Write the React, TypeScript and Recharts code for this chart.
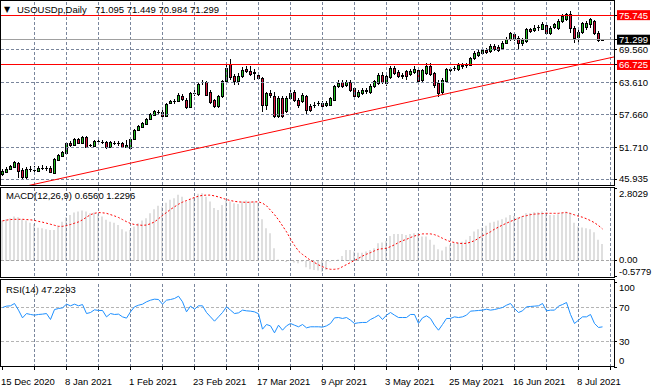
import React from 'react';
import { ComposedChart, Bar, Line, XAxis, YAxis, ReferenceLine } from 'recharts';

const DATE_LABELS = ['15 Dec 2020', '8 Jan 2021', '1 Feb 2021', '23 Feb 2021', '17 Mar 2021', '9 Apr 2021', '3 May 2021', '25 May 2021', '16 Jun 2021', '8 Jul 2021'];
const LABEL_IDX = [0, 16, 32, 48, 64, 80, 96, 112, 128, 144];
const TICK_IDX = [0, 8, 16, 24, 32, 40, 48, 56, 64, 72, 80, 88, 96, 104, 112, 120, 128, 136, 144, 152];
const GRID_IDX = [8, 16, 24, 32, 40, 48, 56, 64, 72, 80, 88, 96, 104, 112, 120, 128, 136, 144, 152];

const OPEN = [46.91,47.27,47.82,48.18,48.91,47.63,46.36,47.82,47.63,47.45,48.00,48.00,48.00,47.09,49.45,50.18,50.72,52.54,52.18,53.27,52.54,53.63,52.00,52.00,52.90,52.72,52.72,51.81,52.54,52.54,52.54,51.81,51.63,53.27,54.90,55.45,55.99,56.90,57.63,58.17,58.17,57.44,59.80,59.99,60.17,61.08,60.35,59.08,61.62,61.44,63.44,63.49,61.80,60.22,59.13,60.95,63.67,66.89,64.71,63.67,64.58,65.93,65.49,65.44,64.89,64.29,59.44,61.57,60.95,57.32,60.66,58.22,60.66,61.68,60.35,60.04,61.08,59.13,59.44,59.80,59.75,59.44,59.44,60.35,62.77,63.49,63.07,63.49,62.48,61.08,61.57,62.17,61.68,62.89,63.38,64.89,63.38,64.53,66.11,65.31,64.89,65.49,65.07,65.31,65.80,63.98,65.20,66.40,65.20,63.38,61.68,63.67,65.93,65.98,65.93,66.71,66.53,66.71,67.92,68.52,68.83,69.31,69.12,70.03,69.92,69.74,70.65,71.38,72.16,71.56,70.65,70.94,73.07,72.94,73.43,73.19,73.79,72.47,73.55,73.37,74.57,74.88,75.79,73.37,71.74,72.58,73.55,73.97,74.57,72.47,71.095];
const HIGH = [47.82,48.18,48.54,49.27,49.09,48.00,48.18,48.36,48.36,48.36,48.54,48.36,48.36,49.81,50.54,51.09,52.72,52.90,53.45,53.45,53.81,53.81,52.36,53.08,53.27,53.08,52.90,52.90,52.90,52.90,52.72,53.08,53.45,55.08,55.81,56.35,57.08,57.99,58.53,58.53,58.53,59.80,60.35,60.53,61.62,61.44,60.72,61.80,62.17,63.44,63.98,63.80,62.17,60.53,61.26,63.98,67.07,67.74,65.07,65.25,66.35,66.53,66.53,65.98,65.25,64.53,61.80,62.17,61.80,61.08,61.08,61.08,62.17,62.17,60.72,61.62,61.26,59.62,59.99,60.17,60.17,60.17,60.90,63.07,63.98,63.98,63.98,63.98,62.71,62.17,62.53,62.53,63.26,63.98,65.25,65.44,64.89,66.53,66.53,65.80,65.25,65.80,65.98,66.53,66.16,65.98,67.07,67.12,65.44,63.98,64.35,66.16,66.35,66.53,67.07,67.07,67.07,68.16,69.25,69.43,69.98,69.79,70.52,70.52,70.34,71.07,71.79,72.70,72.52,71.98,71.61,73.43,73.43,73.97,73.97,74.52,74.16,73.79,74.34,75.06,75.97,76.15,76.52,73.79,73.07,74.52,74.70,75.25,74.88,72.88,71.449];
const LOW = [46.54,47.09,47.63,48.00,46.18,45.82,46.00,47.27,46.91,47.27,47.63,47.45,47.09,47.00,49.27,50.00,50.63,51.81,52.00,52.36,52.36,51.63,51.81,51.81,52.54,52.36,51.45,51.63,52.18,52.00,51.63,51.63,51.45,53.08,54.72,55.27,55.81,56.72,57.44,57.81,57.26,57.26,59.62,59.62,59.99,60.17,58.72,58.90,61.08,61.08,63.07,61.08,59.62,58.90,58.90,60.72,63.44,63.98,63.07,63.07,64.35,65.25,64.71,63.98,63.98,58.17,58.53,60.72,57.08,57.08,57.08,57.99,60.35,59.99,58.90,59.80,57.62,58.17,58.90,59.26,58.90,59.08,59.26,60.17,62.53,62.53,62.71,61.80,60.72,60.72,61.26,61.44,61.44,62.53,63.07,63.26,62.89,64.16,64.89,64.35,64.16,63.98,64.71,65.07,63.44,63.62,64.89,64.71,62.53,60.90,61.26,63.44,65.44,65.62,65.62,65.98,66.16,66.53,67.62,68.16,68.52,68.70,68.89,69.25,69.07,69.43,70.52,71.07,71.07,69.56,70.16,70.70,72.52,72.70,72.88,73.07,72.16,72.16,73.25,73.07,74.34,74.70,72.52,70.65,70.34,72.34,73.07,73.43,72.16,70.89,70.984];
const CLOSE = [47.45,47.82,48.36,49.09,47.45,46.36,47.82,47.73,47.45,48.00,48.05,47.91,47.27,49.63,50.36,50.90,52.54,52.18,53.27,52.54,53.63,51.81,52.18,52.90,52.81,52.65,51.81,52.72,52.45,52.36,51.81,52.18,53.27,54.90,55.63,56.17,56.90,57.81,58.35,58.08,57.44,59.62,60.17,60.08,61.26,60.53,59.08,61.62,61.44,63.25,63.53,61.26,59.86,59.13,60.95,63.67,66.11,64.47,63.67,64.58,65.80,65.49,65.07,65.25,64.29,59.44,61.57,61.26,57.32,60.66,57.32,60.66,61.57,60.35,59.44,61.26,58.53,58.53,59.35,59.62,59.26,59.75,60.66,62.77,63.38,62.89,63.49,62.17,60.95,61.68,62.04,61.86,62.89,63.67,64.89,63.49,64.58,66.11,65.20,64.71,64.58,64.71,65.49,65.93,63.67,65.67,66.40,65.07,63.07,61.57,63.86,65.93,65.67,66.11,66.71,66.40,66.71,67.92,68.71,68.94,69.43,68.94,70.03,69.56,69.43,70.65,71.38,72.34,71.38,70.65,71.12,73.07,72.76,73.37,73.25,73.97,72.47,73.37,73.97,74.57,75.48,75.79,73.37,71.56,72.58,74.16,74.28,74.88,72.47,71.12,71.299];

const MACD = [1.55,1.60,1.64,1.71,1.68,1.60,1.55,1.47,1.42,1.28,1.26,1.22,1.19,1.19,1.32,1.51,1.68,1.77,1.86,1.90,1.94,1.90,1.83,1.86,1.81,1.71,1.58,1.51,1.47,1.38,1.22,1.13,1.19,1.32,1.45,1.55,1.64,1.83,1.99,2.12,2.09,2.24,2.35,2.41,2.54,2.47,2.28,2.37,2.45,2.58,2.60,2.47,2.28,2.03,1.96,2.15,2.32,2.28,2.22,2.19,2.28,2.32,2.28,2.28,2.24,1.60,1.26,1.06,0.49,0.06,0.02,-0.04,0.01,-0.06,-0.09,-0.03,-0.24,-0.32,-0.35,-0.37,-0.41,-0.35,-0.03,0.02,0.06,0.19,0.42,0.42,0.36,0.32,0.32,0.36,0.42,0.49,0.68,0.71,0.77,0.96,1.04,1.04,1.04,1.00,1.04,1.06,1.06,0.94,0.94,0.81,0.62,0.45,0.40,0.55,0.62,0.68,0.71,0.74,0.81,0.96,1.13,1.22,1.29,1.35,1.47,1.51,1.55,1.60,1.67,1.77,1.73,1.68,1.73,1.83,1.83,1.87,1.87,1.90,1.86,1.77,1.77,1.79,1.86,1.90,1.86,1.47,1.32,1.29,1.26,1.22,1.10,0.81,0.656];
const SIGNAL = [1.54,1.57,1.59,1.60,1.60,1.60,1.59,1.58,1.56,1.52,1.49,1.45,1.41,1.37,1.33,1.33,1.36,1.40,1.45,1.50,1.58,1.68,1.78,1.83,1.86,1.85,1.83,1.78,1.73,1.67,1.59,1.51,1.44,1.40,1.38,1.37,1.38,1.43,1.50,1.62,1.75,1.86,1.98,2.08,2.18,2.26,2.32,2.38,2.44,2.49,2.52,2.53,2.53,2.50,2.46,2.41,2.36,2.32,2.29,2.27,2.26,2.25,2.26,2.27,2.27,2.22,2.12,1.95,1.78,1.58,1.35,1.12,0.85,0.60,0.38,0.25,0.14,0.02,-0.06,-0.15,-0.22,-0.29,-0.32,-0.32,-0.30,-0.22,-0.14,-0.06,0.02,0.10,0.19,0.26,0.32,0.39,0.45,0.47,0.49,0.55,0.62,0.71,0.78,0.83,0.90,0.96,1.00,1.04,1.04,1.04,1.01,0.95,0.87,0.80,0.74,0.71,0.68,0.67,0.68,0.72,0.78,0.87,0.97,1.04,1.12,1.22,1.30,1.38,1.45,1.52,1.58,1.64,1.71,1.74,1.78,1.80,1.81,1.82,1.83,1.83,1.83,1.83,1.85,1.86,1.82,1.77,1.72,1.68,1.62,1.55,1.47,1.36,1.2296];
const RSI = [70.0,71.6,72.0,74.7,66.9,57.8,62.9,61.8,61.0,61.8,62.2,62.9,55.9,67.6,68.8,69.6,73.9,72.0,73.9,72.0,73.5,62.9,64.1,67.3,66.5,66.5,59.0,62.9,61.8,62.2,59.0,57.5,64.9,70.8,72.7,73.9,76.7,78.6,79.8,79.4,73.9,78.6,79.4,80.6,83.3,76.7,64.9,71.6,68.0,72.0,72.0,64.1,59.0,53.9,59.0,64.1,70.8,66.9,62.9,63.7,66.9,66.1,65.7,64.9,62.6,44.5,50.0,48.4,40.2,49.2,43.3,48.4,51.2,49.2,47.3,50.0,46.1,47.3,47.3,47.3,46.9,48.4,51.2,57.8,58.2,57.1,58.2,55.1,51.2,52.0,52.4,52.4,55.9,58.2,61.0,55.9,61.0,64.1,61.0,58.2,58.2,58.2,61.8,61.8,51.2,57.8,60.2,57.1,49.2,43.3,50.0,57.1,57.1,59.0,58.2,59.0,61.0,65.7,66.1,66.5,66.9,68.0,66.9,67.6,68.8,70.0,72.7,74.7,68.8,64.1,66.1,70.8,71.2,71.6,72.0,74.7,66.1,66.9,66.9,71.6,73.5,75.9,61.8,51.2,55.1,59.0,59.0,61.8,51.2,46.5,47.2293];

const PRICE_TICKS = [75.745, 71.299, 69.56, 66.725, 63.61, 57.66, 51.71, 45.935];
const PRICE_GRID = [69.56, 63.61, 57.66, 51.71, 45.935];
const RED_LEVELS = [75.745, 66.725];
const CURRENT_PRICE = 71.299;
const TREND = [{ i: 0, p: 43.85 }, { i: 152.9, p: 68.18 }];
const MACD_TICKS = [2.8029, 0, -0.5779];
const RSI_TICKS = [100, 70, 30, 0];
const RSI_LEVELS = [70, 30];

const rows = OPEN.map((o, i) => ({
  i, o, h: HIGH[i], l: LOW[i], c: CLOSE[i], macd: MACD[i], signal: SIGNAL[i], rsi: RSI[i],
}));

const X_DOMAIN: [number, number] = [-0.375, 152.875];
const FONT = 'Liberation Sans, Arial, sans-serif';
const GRID_COLOR = '#7a869c';
const BULL = '#1fbf1f';
const BEAR = '#dc143c';

const Candle = (props: any) => {
  const { x, y, width, height, payload } = props;
  if (!payload || height == null) return null;
  const { o, c, h, l } = payload;
  const cx = x + width / 2;
  const ppu = h > l ? height / (h - l) : 0;
  const yO = y + (h - o) * ppu;
  const yC = y + (h - c) * ppu;
  const top = Math.min(yO, yC);
  const bot = Math.max(yO, yC);
  const up = c >= o;
  return (
    <g shapeRendering="crispEdges">
      <line x1={cx} x2={cx} y1={y} y2={y + height} stroke="#000" strokeWidth={1} />
      {bot - top < 1 ? (
        <line x1={cx - 1.5} x2={cx + 1.5} y1={top} y2={top} stroke="#000" strokeWidth={1} />
      ) : (
        <rect x={cx - 1} y={top} width={2} height={bot - top} fill={up ? BULL : BEAR} stroke="#000" strokeWidth={1} />
      )}
    </g>
  );
};

const makeYTick = (top: number, bottom: number, fmt: (v: number) => string, boxes: Record<string, string>, shift: Record<string, number>) => (props: any) => {
  const { x, y, payload } = props;
  const label = fmt(payload.value);
  const cy = Math.min(Math.max(y, top + 5.5), bottom - 6) + (shift[label] || 0);
  const bg = boxes[label];
  return (
    <g>
      <line x1={x} x2={x + 3} y1={y} y2={y} stroke="#000" shapeRendering="crispEdges" />
      {bg ? <rect x={x + 3} y={cy - 5} width={33} height={10} fill={bg} /> : null}
      <text x={x + 5} y={cy} dy={3.4} fontSize={9.5} fontFamily={FONT} fill={bg ? '#fff' : '#000'}>{label}</text>
    </g>
  );
};

const XTick = (props: any) => {
  const { x, y, payload } = props;
  const k = LABEL_IDX.indexOf(payload.value);
  return (
    <g>
      <line x1={x} x2={x} y1={y} y2={y + 3} stroke="#000" shapeRendering="crispEdges" />
      {k >= 0 ? (
        <text x={x - 1.5} y={y + 17.5} fontSize={9.5} fontFamily={FONT} fill="#000" textAnchor="start">{DATE_LABELS[k]}</text>
      ) : null}
    </g>
  );
};

const PriceTick = makeYTick(1, 185, (v) => v.toFixed(3), { '75.745': '#ff0000', '66.725': '#ff0000', '71.299': '#000000' }, {});
const MacdTick = makeYTick(2, 90, (v) => (v === 0 ? '0.00' : v.toFixed(4)), {}, { '0.00': -1.5, '-0.5779': 1.5 });
const RsiTick = makeYTick(4, 89, (v) => String(v), {}, {});

const vGrid = () => GRID_IDX.map((g) => (
  <ReferenceLine key={'vg' + g} x={g} stroke={GRID_COLOR} strokeDasharray="3 2" shapeRendering="crispEdges" />
));

const frame = (top: number, height: number) => ({
  position: 'absolute' as const, left: 0, top, width: 615, height, border: '1px solid #000', boxSizing: 'border-box' as const, pointerEvents: 'none' as const,
});

export default function App() {
  return (
    <div style={{ position: 'fixed', left: 0, top: 0, width: 656, height: 391, background: '#fff', overflow: 'hidden' }}>
      <div style={{ position: 'absolute', left: 0, top: 0 }}>
        <ComposedChart width={656} height={186} data={rows} margin={{ top: 1, right: 0, bottom: 1, left: 1 }}>
          <XAxis dataKey="i" type="number" domain={X_DOMAIN} allowDataOverflow hide ticks={TICK_IDX} />
          <YAxis orientation="right" width={42} domain={[44.98, 78.31]} allowDataOverflow ticks={PRICE_TICKS} interval={0}
            axisLine={false} tickLine={false} tickSize={0} tickMargin={0} tick={PriceTick} />
          {vGrid()}
          {PRICE_GRID.map((p) => (
            <ReferenceLine key={'hg' + p} y={p} stroke={GRID_COLOR} strokeDasharray="3 2" shapeRendering="crispEdges" />
          ))}
          <ReferenceLine y={CURRENT_PRICE} stroke="#a0a0a0" shapeRendering="crispEdges" />
          {RED_LEVELS.map((p) => (
            <ReferenceLine key={'rl' + p} y={p} stroke="#ff0000" shapeRendering="crispEdges" />
          ))}
          <ReferenceLine segment={[{ x: TREND[0].i, y: TREND[0].p }, { x: TREND[1].i, y: TREND[1].p }]} stroke="#ff0000" ifOverflow="hidden" />
          <Bar dataKey={(d: any) => [d.l, d.h]} barSize={3} shape={Candle} isAnimationActive={false} />
        </ComposedChart>
      </div>
      <div style={{ position: 'absolute', left: 0, top: 186 }}>
        <ComposedChart width={656} height={92} data={rows} margin={{ top: 2, right: 0, bottom: 2, left: 1 }}>
          <XAxis dataKey="i" type="number" domain={X_DOMAIN} allowDataOverflow hide ticks={TICK_IDX} />
          <YAxis orientation="right" width={42} domain={[-0.5779, 2.8029]} allowDataOverflow ticks={MACD_TICKS} interval={0}
            axisLine={false} tickLine={false} tickSize={0} tickMargin={0} tick={MacdTick} />
          {vGrid()}
          <ReferenceLine y={0} stroke="#a8a8a8" strokeDasharray="3 2" shapeRendering="crispEdges" />
          <Bar dataKey="macd" barSize={1} fill="#c0c0c0" isAnimationActive={false} />
          <Line dataKey="signal" type="linear" stroke="#ff0000" strokeWidth={1} strokeDasharray="2 2" dot={false} isAnimationActive={false} />
        </ComposedChart>
      </div>
      <div style={{ position: 'absolute', left: 0, top: 278 }}>
        <ComposedChart width={656} height={113} data={rows} margin={{ top: 4, right: 0, bottom: 0, left: 1 }}>
          <XAxis dataKey="i" type="number" domain={X_DOMAIN} allowDataOverflow ticks={TICK_IDX} interval={0} height={24}
            axisLine={false} tickLine={false} tickSize={0} tickMargin={0} tick={XTick} />
          <YAxis orientation="right" width={42} domain={[0, 100]} allowDataOverflow ticks={RSI_TICKS} interval={0}
            axisLine={false} tickLine={false} tickSize={0} tickMargin={0} tick={RsiTick} />
          {vGrid()}
          {RSI_LEVELS.map((v) => (
            <ReferenceLine key={'rsi' + v} y={v} stroke="#b4b4b4" strokeDasharray="3 2" shapeRendering="crispEdges" />
          ))}
          <Line dataKey="rsi" type="linear" stroke="#1e90ff" strokeWidth={1} dot={false} isAnimationActive={false} />
        </ComposedChart>
      </div>
      <div style={frame(0, 186)} />
      <div style={frame(187, 91)} />
      <div style={frame(279, 88)} />
      <svg width={656} height={391} style={{ position: 'absolute', left: 0, top: 0, pointerEvents: 'none' }}>
        <text x={4} y={12} fontSize={8} fontFamily="DejaVu Sans" fill="#000">▼</text>
        <text x={17} y={12.5} fontSize={9.5} fontFamily={FONT} fill="#000">USOUSDp,Daily</text>
        <text x={95} y={12.5} fontSize={9.5} fontFamily={FONT} fill="#000">71.095 71.449 70.984 71.299</text>
        <text x={6} y={199} fontSize={9.5} fontFamily={FONT} fill="#000">MACD(12,26,9) 0.6560 1.2296</text>
        <text x={6} y={292.5} fontSize={9.5} fontFamily={FONT} fill="#000">RSI(14) 47.2293</text>
      </svg>
    </div>
  );
}
